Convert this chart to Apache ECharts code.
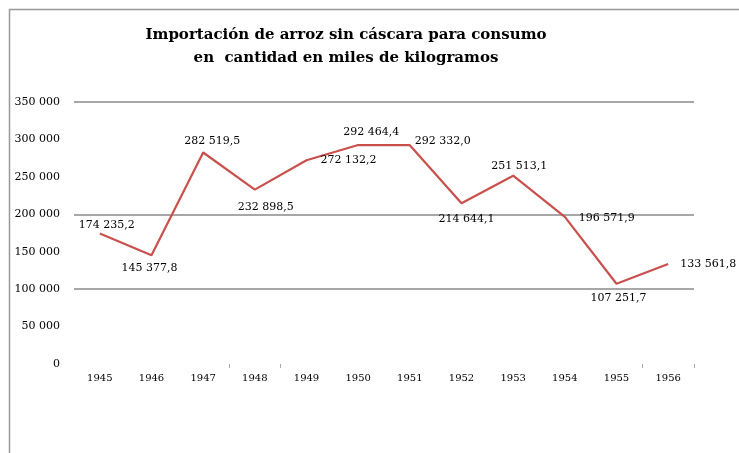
<!DOCTYPE html>
<html>
<head>
<meta charset="utf-8">
<script src="https://cdn.jsdelivr.net/npm/echarts@6/dist/echarts.min.js"></script>
<style>
html,body{margin:0;padding:0;background:#fff;}
#chart{width:739px;height:453px;}
</style>
</head>
<body>
<div id="chart"></div>
<script>
const titleLines = ['Importación de arroz sin cáscara para consumo', 'en  cantidad en miles de kilogramos'];
const years = ['1945','1946','1947','1948','1949','1950','1951','1952','1953','1954','1955','1956'];
const importValues = [174235.2, 145377.8, 282519.5, 232898.5, 272132.2, 292464.4, 292332.0, 214644.1, 251513.1, 196571.9, 107251.7, 133561.8];
const yTicks = [0, 50000, 100000, 150000, 200000, 250000, 300000, 350000];

// label placement (style only): offsets from each point
const labelOffsets = [[7,-8],[-2,13],[9,-11],[11,17],[42,0],[13,-13],[33,-4],[5,16],[6,-10],[42,1],[2,14],[40,0]];

function fmtThousands(n){
  return String(n).replace(/\B(?=(\d{3})+(?!\d))/g, ' ');
}
function fmtValue(v){
  const s = v.toFixed(1).split('.');
  return fmtThousands(s[0]) + ',' + s[1];
}

const serif = 'DejaVu Serif';
const chart = echarts.init(document.getElementById('chart'), null, {renderer:'canvas'});
const seriesData = importValues.map((v,i)=>({
  value: v,
  label: {offset: labelOffsets[i]}
}));

chart.setOption({
  animation:false,
  backgroundColor:'#fff',
  title:{
    text: titleLines.join('\n'),
    left: 341, top: 19, textAlign:'center',
    textStyle:{fontFamily:serif, fontWeight:'bold', fontSize:15, color:'#000', lineHeight:23}
  },
  graphic:[{
    type:'rect', left:7, top:7, shape:{x:0,y:0,width:800,height:500},
    style:{fill:'none', stroke:'#999', lineWidth:1.5}, silent:true
  }],
  grid:{left:74, right:45, top:102, bottom:89, containLabel:false},
  xAxis:{
    type:'category', data:years, boundaryGap:true,
    axisLine:{show:false},
    axisTick:{show:true, length:4, inside:false, lineStyle:{color:'#aaa'},
      interval:function(index){ return [3,4,11,12].indexOf(index) >= 0; }},
    axisLabel:{fontFamily:serif, fontSize:10, color:'#000', margin:9, interval:0}
  },
  yAxis:{
    type:'value', min:yTicks[0], max:yTicks[yTicks.length-1], interval:yTicks[1]-yTicks[0],
    axisLine:{show:false}, axisTick:{show:false},
    axisLabel:{fontFamily:serif, fontSize:11, color:'#000', margin:14,
      formatter:function(v){ return fmtThousands(v); }},
    splitLine:{show:true, lineStyle:{width:1.6,
      color:['rgba(0,0,0,0)','rgba(0,0,0,0)','#8a8a8a','rgba(0,0,0,0)','#8a8a8a','rgba(0,0,0,0)','rgba(0,0,0,0)','#8a8a8a']}}
  },
  series:[{
    type:'line', data:seriesData,
    symbol:'circle', symbolSize:0, showSymbol:true,
    lineStyle:{color:'#c8504d', width:2.2},
    itemStyle:{color:'#c8504d'},
    label:{show:true, position:'inside', fontFamily:serif, fontSize:11, color:'#000',
      formatter:function(p){ return fmtValue(p.value); }}
  }]
});
</script>
</body>
</html>
